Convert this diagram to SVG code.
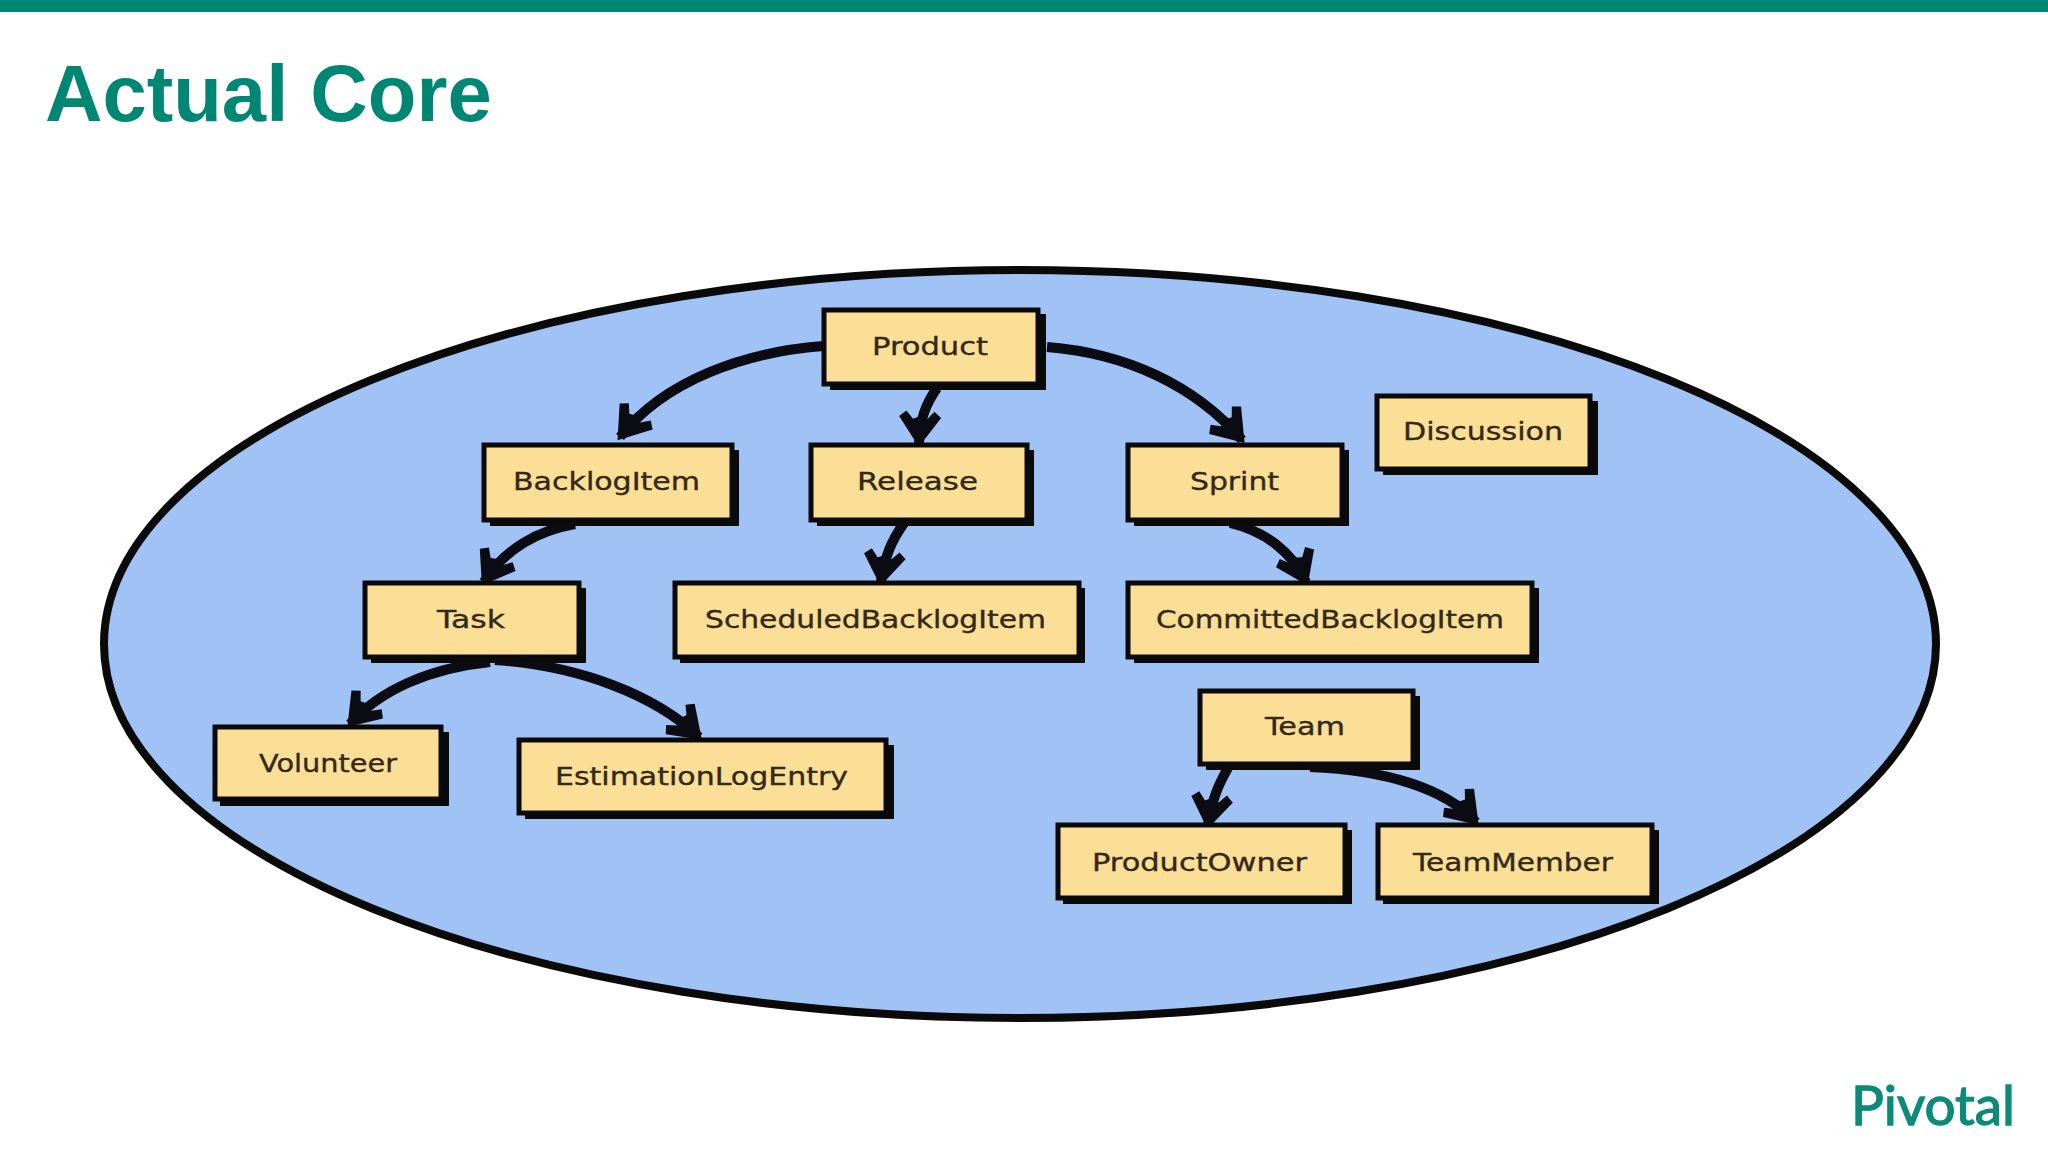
<svg xmlns="http://www.w3.org/2000/svg" width="2048" height="1152" viewBox="0 0 2048 1152">
<style>
.box{fill:#fbdf97;stroke:#0a0a0a;stroke-width:5}
.sh{fill:#0a0a0a}
.t{font-family:"DejaVu Sans","Liberation Sans",sans-serif;font-size:24px;fill:#33291a;stroke:#33291a;stroke-width:.35}
.c{fill:none;stroke:#0b0b14;stroke-width:10;marker-end:url(#ah)}
</style>
<defs>
<marker id="ah" markerUnits="userSpaceOnUse" markerWidth="40" markerHeight="48" viewBox="0 0 40 48" refX="34" refY="24" orient="auto">
<path d="M38 24L8 3L2 10L10 17L7 24L10 31L2 38L8 45Z" fill="#0b0b14"/>
</marker>
</defs>
<rect width="2048" height="1152" fill="#fff"/>
<rect width="2048" height="12" fill="#008774"/>
<text x="45" y="121" font-family="Liberation Sans, Arial, sans-serif" font-weight="700" font-size="79.6" fill="#008774">Actual Core</text>
<ellipse cx="1020" cy="644" rx="916" ry="374" fill="#a0c2f5" stroke="#0a0a0a" stroke-width="8"/>
<g id="connectors">
<path class="c" d="M823 346C745 352 665 380 620 437"/>
<path class="c" d="M937 388C925 405 920 420 919 443"/>
<path class="c" d="M1047 347C1125 353 1195 385 1242 440"/>
<path class="c" d="M575 524C540 530 505 548 484 582"/>
<path class="c" d="M904 523C892 540 885 555 881 582"/>
<path class="c" d="M1230 523C1265 531 1292 552 1306 582"/>
<path class="c" d="M490 662C430 668 380 690 350 724"/>
<path class="c" d="M495 660C580 666 655 695 699 737"/>
<path class="c" d="M1228 768C1218 785 1212 800 1208 825"/>
<path class="c" d="M1310 767C1385 770 1445 788 1476 822"/>
</g>
<g id="product"><rect class="sh" x="830" y="314" width="216" height="76"/><rect class="box" x="824" y="310" width="214" height="74"/><text class="t" x="872" y="355" textLength="116" lengthAdjust="spacingAndGlyphs">Product</text></g>
<g id="backlogitem"><rect class="sh" x="490" y="450" width="249" height="76"/><rect class="box" x="484" y="445" width="248" height="75"/><text class="t" x="513" y="490" textLength="187" lengthAdjust="spacingAndGlyphs">BacklogItem</text></g>
<g id="release"><rect class="sh" x="817" y="450" width="217" height="76"/><rect class="box" x="811" y="445" width="216" height="75"/><text class="t" x="857" y="490" textLength="121" lengthAdjust="spacingAndGlyphs">Release</text></g>
<g id="sprint"><rect class="sh" x="1134" y="450" width="215" height="76"/><rect class="box" x="1128" y="445" width="214" height="75"/><text class="t" x="1190" y="490" textLength="89" lengthAdjust="spacingAndGlyphs">Sprint</text></g>
<g id="discussion"><rect class="sh" x="1383" y="401" width="215" height="74"/><rect class="box" x="1377" y="396" width="213" height="73"/><text class="t" x="1403" y="440" textLength="160" lengthAdjust="spacingAndGlyphs">Discussion</text></g>
<g id="task"><rect class="sh" x="371" y="588" width="215" height="75"/><rect class="box" x="365" y="583" width="214" height="74"/><text class="t" x="437" y="628" textLength="68" lengthAdjust="spacingAndGlyphs">Task</text></g>
<g id="scheduledbacklogitem"><rect class="sh" x="680" y="588" width="405" height="75"/><rect class="box" x="675" y="583" width="404" height="74"/><text class="t" x="705" y="628" textLength="341" lengthAdjust="spacingAndGlyphs">ScheduledBacklogItem</text></g>
<g id="committedbacklogitem"><rect class="sh" x="1134" y="588" width="405" height="75"/><rect class="box" x="1128" y="583" width="404" height="74"/><text class="t" x="1156" y="628" textLength="348" lengthAdjust="spacingAndGlyphs">CommittedBacklogItem</text></g>
<g id="volunteer"><rect class="sh" x="220" y="732" width="229" height="74"/><rect class="box" x="215" y="727" width="226" height="72"/><text class="t" x="259" y="772" textLength="138" lengthAdjust="spacingAndGlyphs">Volunteer</text></g>
<g id="estimationlogentry"><rect class="sh" x="525" y="745" width="369" height="74"/><rect class="box" x="519" y="740" width="367" height="73"/><text class="t" x="555" y="785" textLength="293" lengthAdjust="spacingAndGlyphs">EstimationLogEntry</text></g>
<g id="team"><rect class="sh" x="1206" y="696" width="214" height="74"/><rect class="box" x="1200" y="691" width="213" height="73"/><text class="t" x="1265" y="735" textLength="80" lengthAdjust="spacingAndGlyphs">Team</text></g>
<g id="productowner"><rect class="sh" x="1063" y="830" width="289" height="74"/><rect class="box" x="1058" y="825" width="287" height="73"/><text class="t" x="1092" y="871" textLength="215" lengthAdjust="spacingAndGlyphs">ProductOwner</text></g>
<g id="teammember"><rect class="sh" x="1383" y="830" width="276" height="74"/><rect class="box" x="1378" y="825" width="274" height="73"/><text class="t" x="1413" y="871" textLength="200" lengthAdjust="spacingAndGlyphs">TeamMember</text></g>
<text x="1851" y="1125" font-family="Lato, Noto Sans, sans-serif" font-size="54" fill="#0e8a78" stroke="#0e8a78" stroke-width="1.3" textLength="164" lengthAdjust="spacingAndGlyphs">Pivotal</text>
</svg>
